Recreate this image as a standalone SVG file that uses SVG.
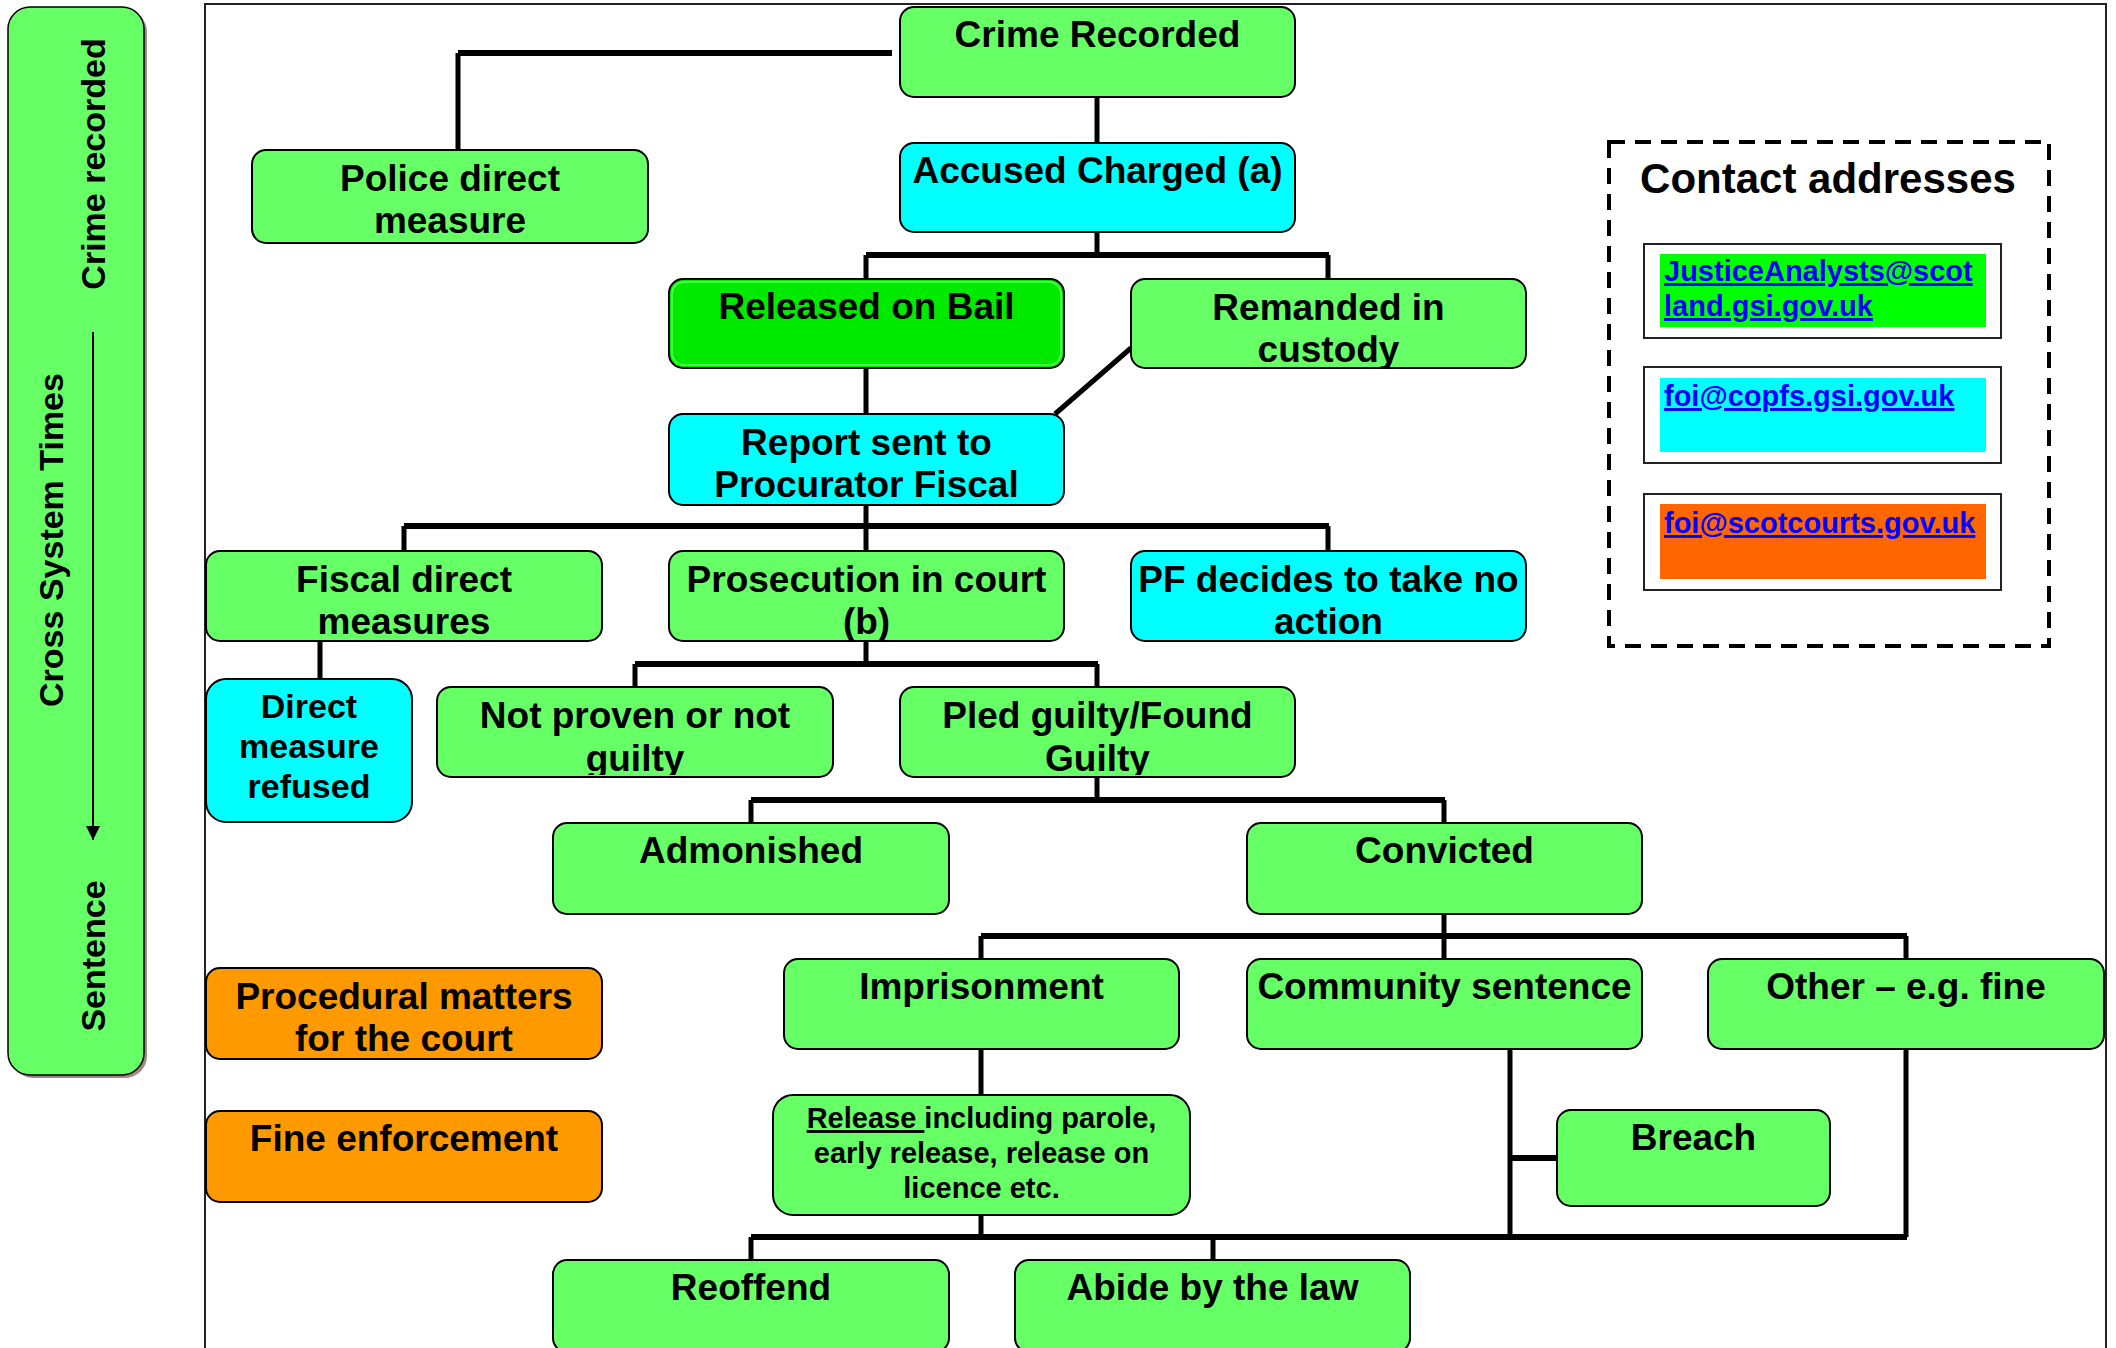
<svg xmlns="http://www.w3.org/2000/svg" width="2116" height="1348" viewBox="0 0 2116 1348">
<style>
  .node { stroke: #000; stroke-width: 2; }
  .g { fill: #66FF66; }
  .c { fill: #00FFFF; }
  .o { fill: #FF9900; }
  .t { font-family: "Liberation Sans", Arial, sans-serif; font-weight: bold; font-size: 37px; text-anchor: middle; fill: #000; }
  .side { font-family: "Liberation Sans", Arial, sans-serif; font-weight: bold; font-size: 34px; text-anchor: middle; fill: #000; }
  .link { font-family: "Liberation Sans", Arial, sans-serif; font-weight: bold; font-size: 29px; fill: #0000FF; text-decoration: underline; }
  .v { stroke: #000; stroke-width: 5; fill: none; }
  .h { stroke: #000; stroke-width: 6; fill: none; }
</style>
<defs>
  <marker id="arr" viewBox="0 0 10 10" refX="10" refY="5" markerWidth="7" markerHeight="7" orient="auto" markerUnits="strokeWidth">
    <path d="M0,0 L10,5 L0,10 z" fill="#000"/>
  </marker>
  <clipPath id="clipRem"><rect x="1131" y="279" width="395" height="88"/></clipPath>
  <clipPath id="clipPros"><rect x="669" y="551" width="395" height="89"/></clipPath>
  <clipPath id="clipNot"><rect x="437" y="687" width="396" height="88"/></clipPath>
  <clipPath id="clipPled"><rect x="900" y="687" width="395" height="88"/></clipPath>
</defs>
<rect width="2116" height="1348" fill="#fff"/>

<g id="sidebar">
  <rect x="11" y="10" width="136" height="1068" rx="22" fill="#A08888"/>
  <rect x="8" y="7" width="136" height="1068" rx="22" class="g" stroke="#000" stroke-width="1.5"/>
  <text class="side" transform="translate(105,164) rotate(-90)">Crime recorded</text>
  <text class="side" transform="translate(63,540) rotate(-90)">Cross System Times</text>
  <text class="side" transform="translate(105,956) rotate(-90)">Sentence</text>
  <line x1="93" y1="332" x2="93" y2="840" stroke="#000" stroke-width="2" marker-end="url(#arr)"/>
</g>

<g id="frame">
  <path d="M205 1348 V4 H2106 V1348" fill="none" stroke="#222" stroke-width="2"/>
</g>

<g id="connectors">
  <path class="h" d="M892 53 H458"/>
  <path class="v" d="M458 53 V150"/>
  <path class="v" d="M1097 97 V143"/>
  <path class="v" d="M1097 232 V255"/>
  <path class="h" d="M866 255 H1329"/>
  <path class="v" d="M866 255 V279 M1328 255 V279"/>
  <path class="v" d="M866 368 V414"/>
  <path class="v" d="M1131 348 L1055 414"/>
  <path class="v" d="M866 505 V526"/>
  <path class="h" d="M404 526 H1329"/>
  <path class="v" d="M404 526 V551 M866 526 V551 M1328 526 V551"/>
  <path class="v" d="M320 641 V679"/>
  <path class="v" d="M866 641 V664"/>
  <path class="h" d="M635 664 H1098"/>
  <path class="v" d="M635 664 V687 M1097 664 V687"/>
  <path class="v" d="M1097 777 V800"/>
  <path class="h" d="M751 800 H1445"/>
  <path class="v" d="M751 800 V823 M1444 800 V823"/>
  <path class="v" d="M1444 914 V936"/>
  <path class="h" d="M981 936 H1907"/>
  <path class="v" d="M981 936 V959 M1444 936 V959 M1906 936 V959"/>
  <path class="v" d="M981 1049 V1095"/>
  <path class="v" d="M981 1215 V1237"/>
  <path class="h" d="M751 1237 H1907"/>
  <path class="v" d="M751 1237 V1260 M1213 1237 V1260"/>
  <path class="v" d="M1510 1049 V1237 M1906 1049 V1237"/>
  <path class="h" d="M1510 1158 H1557"/>
</g>

<g id="crime-recorded">
  <rect class="node g" x="900" y="7" width="395" height="90" rx="14"/>
  <text class="t" x="1097.5" y="47">Crime Recorded</text>
</g>
<g id="police-direct-measure">
  <rect class="node g" x="252" y="150" width="396" height="93" rx="14"/>
  <text class="t" x="450" y="191">Police direct</text>
  <text class="t" x="450" y="233">measure</text>
</g>
<g id="accused-charged">
  <rect class="node c" x="900" y="143" width="395" height="89" rx="14"/>
  <text class="t" x="1097.5" y="183">Accused Charged (a)</text>
</g>
<g id="released-on-bail">
  <rect class="node" x="669" y="279" width="395" height="89" rx="14" fill="#00EA00"/>
  <rect x="672" y="282" width="389" height="83" rx="12" fill="none" stroke="#44FF44" stroke-width="2"/>
  <text class="t" x="866.5" y="319">Released on Bail</text>
</g>
<g id="remanded-in-custody">
  <rect class="node g" x="1131" y="279" width="395" height="89" rx="14"/>
  <g clip-path="url(#clipRem)">
    <text class="t" x="1328.5" y="320">Remanded in</text>
    <text class="t" x="1328.5" y="362">custody</text>
  </g>
</g>
<g id="report-sent">
  <rect class="node c" x="669" y="414" width="395" height="91" rx="14"/>
  <text class="t" x="866.5" y="455">Report sent to</text>
  <text class="t" x="866.5" y="497">Procurator Fiscal</text>
</g>
<g id="fiscal-direct-measures">
  <rect class="node g" x="206" y="551" width="396" height="90" rx="14"/>
  <text class="t" x="404" y="592">Fiscal direct</text>
  <text class="t" x="404" y="634">measures</text>
</g>
<g id="prosecution-in-court">
  <rect class="node g" x="669" y="551" width="395" height="90" rx="14"/>
  <g clip-path="url(#clipPros)">
    <text class="t" x="866.5" y="592">Prosecution in court</text>
    <text class="t" x="866.5" y="634">(b)</text>
  </g>
</g>
<g id="pf-no-action">
  <rect class="node c" x="1131" y="551" width="395" height="90" rx="14"/>
  <text class="t" x="1328.5" y="592">PF decides to take no</text>
  <text class="t" x="1328.5" y="634">action</text>
</g>
<g id="direct-measure-refused">
  <rect class="node c" x="206" y="679" width="206" height="143" rx="20"/>
  <text class="t" style="font-size:34px" x="309" y="718">Direct</text>
  <text class="t" style="font-size:34px" x="309" y="758">measure</text>
  <text class="t" style="font-size:34px" x="309" y="798">refused</text>
</g>
<g id="not-proven">
  <rect class="node g" x="437" y="687" width="396" height="90" rx="14"/>
  <g clip-path="url(#clipNot)">
    <text class="t" x="635" y="728">Not proven or not</text>
    <text class="t" x="635" y="771">guilty</text>
  </g>
</g>
<g id="pled-guilty">
  <rect class="node g" x="900" y="687" width="395" height="90" rx="14"/>
  <g clip-path="url(#clipPled)">
    <text class="t" x="1097.5" y="728">Pled guilty/Found</text>
    <text class="t" x="1097.5" y="771">Guilty</text>
  </g>
</g>
<g id="admonished">
  <rect class="node g" x="553" y="823" width="396" height="91" rx="14"/>
  <text class="t" x="751" y="863">Admonished</text>
</g>
<g id="convicted">
  <rect class="node g" x="1247" y="823" width="395" height="91" rx="14"/>
  <text class="t" x="1444.5" y="863">Convicted</text>
</g>
<g id="imprisonment">
  <rect class="node g" x="784" y="959" width="395" height="90" rx="14"/>
  <text class="t" x="981.5" y="999">Imprisonment</text>
</g>
<g id="community-sentence">
  <rect class="node g" x="1247" y="959" width="395" height="90" rx="14"/>
  <text class="t" x="1444.5" y="999">Community sentence</text>
</g>
<g id="other-fine">
  <rect class="node g" x="1708" y="959" width="396" height="90" rx="14"/>
  <text class="t" x="1906" y="999">Other – e.g. fine</text>
</g>
<g id="procedural-matters">
  <rect class="node o" x="206" y="968" width="396" height="91" rx="14"/>
  <text class="t" x="404" y="1009">Procedural matters</text>
  <text class="t" x="404" y="1051">for the court</text>
</g>
<g id="fine-enforcement">
  <rect class="node o" x="206" y="1111" width="396" height="91" rx="14"/>
  <text class="t" x="404" y="1151">Fine enforcement</text>
</g>
<g id="release">
  <rect class="node g" x="773" y="1095" width="417" height="120" rx="20"/>
  <text class="t" style="font-size:29px" x="981.5" y="1128"><tspan text-decoration="underline">Release </tspan>including parole,</text>
  <text class="t" style="font-size:29px" x="981.5" y="1163">early release, release on</text>
  <text class="t" style="font-size:29px" x="981.5" y="1198">licence etc.</text>
</g>
<g id="breach">
  <rect class="node g" x="1557" y="1110" width="273" height="96" rx="14"/>
  <text class="t" x="1693.5" y="1150">Breach</text>
</g>
<g id="reoffend">
  <rect class="node g" x="553" y="1260" width="396" height="92" rx="14"/>
  <text class="t" x="751" y="1300">Reoffend</text>
</g>
<g id="abide-by-the-law">
  <rect class="node g" x="1015" y="1260" width="395" height="92" rx="14"/>
  <text class="t" x="1212.5" y="1300">Abide by the law</text>
</g>

<g id="contact-addresses">
  <rect x="1609" y="142" width="440" height="504" fill="none" stroke="#000" stroke-width="4" stroke-dasharray="16,10"/>
  <text class="t" style="font-size:42px" x="1828" y="193">Contact addresses</text>
  <rect x="1644" y="244" width="357" height="94" fill="#fff" stroke="#222" stroke-width="2"/>
  <rect x="1660" y="254" width="326" height="73" fill="#00FF00"/>
  <text class="link" x="1664" y="281">JusticeAnalysts@scot</text>
  <text class="link" x="1664" y="316">land.gsi.gov.uk</text>
  <rect x="1644" y="367" width="357" height="96" fill="#fff" stroke="#222" stroke-width="2"/>
  <rect x="1660" y="378" width="326" height="74" fill="#00FFFF"/>
  <text class="link" x="1664" y="406">foi@copfs.gsi.gov.uk</text>
  <rect x="1644" y="494" width="357" height="96" fill="#fff" stroke="#222" stroke-width="2"/>
  <rect x="1660" y="504" width="326" height="75" fill="#FF6600"/>
  <text class="link" x="1664" y="533">foi@scotcourts.gov.uk</text>
</g>
</svg>
